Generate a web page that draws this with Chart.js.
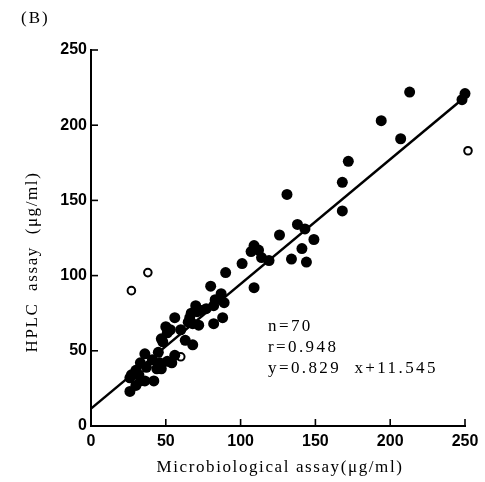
<!DOCTYPE html>
<html>
<head>
<meta charset="utf-8">
<script src="https://cdn.jsdelivr.net/npm/chart.js@4"></script>
<style>
html,body{margin:0;padding:0;background:#fff;}
#wrap{width:485px;height:482px;position:relative;}
</style>
</head>
<body>
<div id="wrap"><canvas id="c" width="485" height="482"></canvas></div>
<script>
// Filled circles: microbiological assay (x) vs HPLC assay (y)
const filledX = [250,248,213,194,207,172,168,168,131,138,143,149,126,141,134,144,109,107,112,114,119,101,90,80,87,109,83,89,82,77,70,71,67,73,56,66,65,68,72,82,88,50,53,51,60,47,63,68,48,45,36,41,46,51,54,56,33,37,44,47,30,27,26,32,33,36,42,26,30];
const filledY = [221,217,222,203,191,176,162,143,154,134,131,124,127,118,111,109,120,116,117,112,110,108,102,93,88,92,84,82,80,78,80,76,75,77,72,72,69,68,67,68,72,66,64,62,64,58,57,54,56,49,48,44,42,43,42,47,42,39,38,38,37,34,32,34,30,30,30,23,27];
// Open circles
const openX = [27,38,60,252];
const openY = [90,102,46,183];
// Regression line y = 0.829x + 11.545
const slope = 0.829, intercept = 11.545;
const lineX = [0, 252];
const xTicks = [0,50,100,150,200,250];
const yTicks = [0,50,100,150,200,250];
const statLines = ["n=70","r=0.948","y=0.829  x+11.545"];
const xTitle = "Microbiological assay(\u03bcg/ml)";
const yTitle = "HPLC  assay  (\u03bcg/ml)";
const panelLabel = "(B)";

const filled = filledX.map((x,i)=>({x:x,y:filledY[i]}));
const open = openX.map((x,i)=>({x:x,y:openY[i]}));
const line = lineX.map(x=>({x:x,y:slope*x+intercept}));

const decor = {
  id:'decor',
  afterDraw(chart){
    const ctx = chart.ctx;
    const xs = chart.scales.x, ys = chart.scales.y;
    ctx.save();
    ctx.strokeStyle = '#000';
    ctx.lineWidth = 1.6;
    // inward ticks
    xTicks.forEach(v=>{
      const p = xs.getPixelForValue(v);
      ctx.beginPath(); ctx.moveTo(p, ys.bottom); ctx.lineTo(p, ys.bottom-7); ctx.stroke();
    });
    yTicks.forEach(v=>{
      const p = ys.getPixelForValue(v);
      ctx.beginPath(); ctx.moveTo(xs.left, p); ctx.lineTo(xs.left+7, p); ctx.stroke();
    });
    ctx.fillStyle = '#000';
    ctx.textBaseline = 'middle';
    ctx.textAlign = 'left';
    ctx.font = '17px "Liberation Serif", serif';
    ctx.letterSpacing = '2px';
    ctx.fillText(panelLabel, 21, 19);
    ctx.font = '17px "Liberation Serif", serif';
    ctx.letterSpacing = '2.4px';
    const ys0 = [327, 348, 369];
    statLines.forEach((t,i)=>{ ctx.fillText(t, 268, ys0[i]); });
    ctx.textAlign = 'center';
    ctx.font = '17px "Liberation Serif", serif';
    ctx.letterSpacing = '1.6px';
    ctx.fillText(xTitle, 280, 468);
    ctx.save();
    ctx.translate(33, 262);
    ctx.rotate(-Math.PI/2);
    ctx.letterSpacing = '1.6px';
    ctx.fillText(yTitle, 0, 0);
    ctx.restore();
    ctx.restore();
  }
};

new Chart(document.getElementById('c'), {
  type:'scatter',
  data:{
    datasets:[
      {label:'line', type:'line', data:line, borderColor:'#000', borderWidth:2.5, pointRadius:0, fill:false, clip:false, order:3},
      {label:'filled', data:filled, backgroundColor:'#000', borderColor:'#000', pointRadius:5.5, pointBorderWidth:0, clip:false, order:1},
      {label:'open', data:open, backgroundColor:'#fff', borderColor:'#000', pointRadius:3.8, pointBorderWidth:2, clip:false, order:2}
    ]
  },
  options:{
    responsive:false,
    animation:false,
    devicePixelRatio:1,
    layout:{padding:{left:0,right:20,top:50,bottom:0}},
    plugins:{legend:{display:false},tooltip:{enabled:false}},
    scales:{
      x:{
        type:'linear', min:0, max:250,
        afterFit(s){ s.height = 56; },
        afterBuildTicks(s){ s.ticks = xTicks.map(v=>({value:v})); },
        grid:{display:false, drawTicks:false},
        border:{display:true, color:'#000', width:2},
        ticks:{color:'#000', padding:6, font:{family:'"Liberation Sans Narrow","Liberation Sans",sans-serif', size:16, weight:'bold'}}
      },
      y:{
        type:'linear', min:0, max:250,
        afterFit(s){ s.width = 91; },
        afterBuildTicks(s){ s.ticks = yTicks.map(v=>({value:v})); },
        grid:{display:false, drawTicks:false},
        border:{display:true, color:'#000', width:2},
        ticks:{color:'#000', padding:4, font:{family:'"Liberation Sans Narrow","Liberation Sans",sans-serif', size:16, weight:'bold'}}
      }
    }
  },
  plugins:[decor]
});
</script>
</body>
</html>
